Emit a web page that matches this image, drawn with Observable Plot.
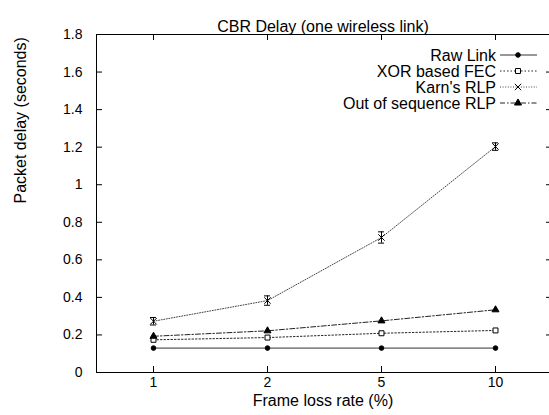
<!DOCTYPE html>
<html>
<head>
<meta charset="utf-8">
<script src="https://cdn.jsdelivr.net/npm/d3@7"></script>
<script src="https://cdn.jsdelivr.net/npm/@observablehq/plot@0.6"></script>
<style>
  html, body { margin: 0; padding: 0; background: #fff; }
  svg { font-family: "Liberation Sans", Arial, sans-serif; }
</style>
</head>
<body>
<div id="chart"></div>
<script>
// ---- data ----
const categories = ["1", "2", "5", "10"];
const rawLink = [0.13, 0.13, 0.13, 0.13];
const xorFec = [0.174, 0.186, 0.209, 0.224];
const karnRlp = [0.273, 0.383, 0.719, 1.203];
const karnErr = [0.02, 0.025, 0.03, 0.02];
const oosRlp = [0.193, 0.222, 0.275, 0.334];
const yTicks = [0, 0.2, 0.4, 0.6, 0.8, 1, 1.2, 1.4, 1.6, 1.8];
const seriesNames = ["Raw Link", "XOR based FEC", "Karn's RLP", "Out of sequence RLP"];
const titleText = "CBR Delay (one wireless link)";
const xLabel = "Frame loss rate (%)";
const yLabel = "Packet delay (seconds)";

// ---- styles ----
const W = 549, H = 415;
const mTop = 34, mBottom = 43, mLeft = 96, mRight = 0;
const xRight = 552; // plot frame right edge (just past the window)
const tickLen = 6;
const styles = [
  {dash: null, stroke: "#333", symbol: "circle", r: 2.3, fill: "black"},
  {dash: "1.5,2", stroke: "#222", symbol: "square", r: 2.8, fill: "white"},
  {dash: "1,1.6", stroke: "#444", symbol: "times", r: 3, fill: "none"},
  {dash: "5,2,1.5,2", stroke: "#222", symbol: "triangle", r: 2.6, fill: "black"}
];
const values = [rawLink, xorFec, karnRlp, oosRlp];
const series = seriesNames.map((name, s) =>
  categories.map((c, i) => ({series: name, i, cat: c, v: values[s][i]}))
);
const karnData = categories.map((c, i) => ({i, v: karnRlp[i], e: karnErr[i]}));

const innerW = W - mLeft - mRight;
const innerH = H - mTop - mBottom;
const idx = categories.map((c, i) => i);

const marks = [
  // frame lines
  Plot.ruleY([0, 1.8], {stroke: "black", strokeWidth: 1}),
  Plot.ruleX([-0.5], {stroke: "black", strokeWidth: 1}),
  // inward ticks
  Plot.tickY(yTicks, {y: d => d, insetRight: innerW - tickLen, stroke: "black"}),
  Plot.tickY(yTicks, {y: d => d, insetLeft: innerW - (tickLen - (xRight - W)), stroke: "black"}),
  Plot.tickX(idx, {x: d => d, insetTop: innerH - tickLen, stroke: "black"}),
  Plot.tickX(idx, {x: d => d, insetBottom: innerH - tickLen, stroke: "black"}),
  // axes labels
  Plot.axisY({ticks: yTicks, tickSize: 0, tickPadding: 14, fontSize: 14, tickFormat: d => String(d), label: null}),
  Plot.axisX({ticks: idx, tickSize: 0, tickPadding: 5, fontSize: 14, tickFormat: i => categories[i], label: null}),
  Plot.text([titleText], {frameAnchor: "top", dy: 20 - mTop, fontSize: 16, fill: "black"}),
  Plot.text([xLabel], {frameAnchor: "bottom", dy: 33, fontSize: 16, fill: "black"}),
  Plot.text([yLabel], {frameAnchor: "left", dx: 20 - mLeft, rotate: -90, fontSize: 16, fill: "black"}),
  // Karn error bars
  Plot.ruleX(karnData, {x: "i", y1: d => d.v - d.e, y2: d => d.v + d.e, stroke: "black"}),
  Plot.ruleY(karnData, {x1: "i", x2: "i", y: d => d.v - d.e, insetLeft: -3, insetRight: -3, stroke: "black"}),
  Plot.ruleY(karnData, {x1: "i", x2: "i", y: d => d.v + d.e, insetLeft: -3, insetRight: -3, stroke: "black"})
];
series.forEach((data, s) => {
  const st = styles[s];
  marks.push(Plot.line(data, {x: "i", y: "v", stroke: st.stroke, strokeWidth: 1, strokeDasharray: st.dash}));
  marks.push(Plot.dot(data, {x: "i", y: "v", symbol: st.symbol, r: st.r, fill: st.fill,
    stroke: "black", strokeWidth: 1}));
});

const chart = Plot.plot({
  width: W, height: H,
  marginTop: mTop, marginBottom: mBottom, marginLeft: mLeft, marginRight: mRight,
  style: {background: "white", fontFamily: "Liberation Sans, Arial, sans-serif", color: "black"},
  x: {type: "linear", domain: [-0.5, categories.length - 0.5], range: [mLeft, xRight], axis: null},
  y: {type: "linear", domain: [0, 1.8], axis: null},
  marks
});
document.getElementById("chart").appendChild(chart);

// ---- legend (inside top right) ----
const svg = d3.select(chart);
const lg = svg.append("g").attr("font-family", "Liberation Sans, Arial, sans-serif").attr("font-size", 16);
const symMap = {circle: d3.symbolCircle, square: d3.symbolSquare, times: d3.symbolTimes, triangle: d3.symbolTriangle};
seriesNames.forEach((name, s) => {
  const st = styles[s];
  const y = 55 + 16 * s;
  lg.append("text").attr("x", 496).attr("y", y).attr("dy", "0.35em")
    .attr("text-anchor", "end").attr("fill", "black").text(name);
  lg.append("line").attr("x1", 500).attr("x2", 537).attr("y1", y).attr("y2", y)
    .attr("stroke", st.stroke).attr("stroke-dasharray", st.dash);
  lg.append("path").attr("transform", `translate(518,${y})`)
    .attr("d", d3.symbol(symMap[st.symbol], Math.PI * st.r * st.r)())
    .attr("fill", st.fill).attr("stroke", "black");
});
</script>
</body>
</html>
